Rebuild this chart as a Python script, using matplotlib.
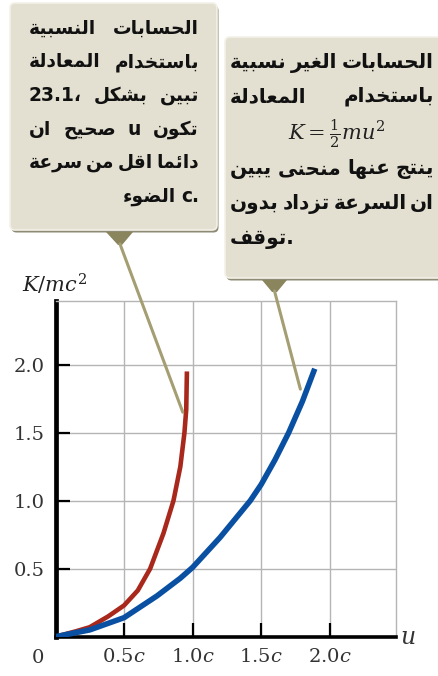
import matplotlib
matplotlib.use('Agg')
import matplotlib.pyplot as plt
from matplotlib.patches import FancyBboxPatch, Polygon, ConnectionPatch

plt.rcParams['mathtext.fontset'] = 'dejavuserif'

# values (u in units of c, K in units of mc^2)
rel_u = [0, 0.15, 0.25, 0.385, 0.5, 0.6, 0.69, 0.787, 0.86, 0.91, 0.94, 0.953, 0.958]
rel_k = [0, 0.04, 0.07, 0.15, 0.23, 0.34, 0.5, 0.76, 1.0, 1.25, 1.5, 1.67, 1.95]
classic_u = [0, 0.25, 0.5, 0.74, 0.91, 1.0, 1.2, 1.42, 1.5, 1.6, 1.7, 1.8, 1.89]
classic_k = [0, 0.05, 0.14, 0.30, 0.43, 0.51, 0.73, 1.0, 1.12, 1.3, 1.5, 1.73, 1.97]

x_ticks = [0.5, 1.0, 1.5, 2.0]
x_tick_labels = ['0.5$c$', '1.0$c$', '1.5$c$', '2.0$c$']
y_ticks = [0.5, 1.0, 1.5, 2.0]
y_tick_labels = ['0.5', '1.0', '1.5', '2.0']

left_note = ['الحسابات النسبية',
             'باستخدام المعادلة',
             '23.1، تبين بشكل',
             'صحيح ان u تكون',
             'دائما اقل من سرعة',
             'الضوء c.']
right_note = ['الحسابات الغير نسبية',
              'باستخدام المعادلة',
              r'$K = \frac{1}{2}mu^2$',
              'ينتج عنها منحنى يبين',
              'ان السرعة  تزداد بدون',
              'توقف.']

# arabic letter -> (isolated presentation form, number of forms)
FORMS = {'ء': (0xFE80, 1), 'آ': (0xFE81, 2), 'أ': (0xFE83, 2), 'ؤ': (0xFE85, 2),
         'إ': (0xFE87, 2), 'ئ': (0xFE89, 4), 'ا': (0xFE8D, 2), 'ب': (0xFE8F, 4),
         'ة': (0xFE93, 2), 'ت': (0xFE95, 4), 'ث': (0xFE99, 4), 'ج': (0xFE9D, 4),
         'ح': (0xFEA1, 4), 'خ': (0xFEA5, 4), 'د': (0xFEA9, 2), 'ذ': (0xFEAB, 2),
         'ر': (0xFEAD, 2), 'ز': (0xFEAF, 2), 'س': (0xFEB1, 4), 'ش': (0xFEB5, 4),
         'ص': (0xFEB9, 4), 'ض': (0xFEBD, 4), 'ط': (0xFEC1, 4), 'ظ': (0xFEC5, 4),
         'ع': (0xFEC9, 4), 'غ': (0xFECD, 4), 'ف': (0xFED1, 4), 'ق': (0xFED5, 4),
         'ك': (0xFED9, 4), 'ل': (0xFEDD, 4), 'م': (0xFEE1, 4), 'ن': (0xFEE5, 4),
         'ه': (0xFEE9, 4), 'و': (0xFEED, 2), 'ى': (0xFEEF, 2), 'ي': (0xFEF1, 4)}


def shape_token(word):
    # join letters, then lay each arabic run right to left
    runs = []
    for i, ch in enumerate(word):
        if ch in FORMS:
            code, nf = FORMS[ch]
            prev = word[i - 1] if i > 0 else ''
            nxt = word[i + 1] if i + 1 < len(word) else ''
            jp = prev in FORMS and FORMS[prev][1] == 4
            jn = nf == 4 and nxt in FORMS and FORMS[nxt][1] > 1
            form = 3 if (jp and jn) else 1 if jp else 2 if jn else 0
            glyph, is_ar = chr(code + form), True
        else:
            glyph, is_ar = ch, False
        if runs and runs[-1][1] == is_ar:
            runs[-1][0].append(glyph)
        else:
            runs.append([[glyph], is_ar])
    return ''.join(''.join(g[::-1] if a else g) for g, a in runs)


def visual_tokens(line):
    # runs of arabic words read right to left, numbers and latin stay in place
    out, run = [], []
    for w in line.split():
        if any(c in FORMS for c in w):
            run.append(shape_token(w))
        else:
            out.extend(run[::-1])
            run = []
            out.append(w)
    out.extend(run[::-1])
    return out


def measure(ov, renderer, tokens, kw):
    texts = [ov.text(0, 0, t, **kw) for t in tokens]
    widths = [t.get_window_extent(renderer).width for t in texts]
    for t in texts:
        t.remove()
    return widths


def write_line(ov, renderer, line, x0, x1, y, mode, kw, gap0=5):
    tokens = visual_tokens(line)
    widths = measure(ov, renderer, tokens, kw)
    if mode == 'justify' and len(tokens) > 1:
        gap = (x1 - x0 - sum(widths)) / (len(tokens) - 1)
        x = x0
    else:
        gap = gap0
        total = sum(widths) + gap * (len(tokens) - 1)
        x = x1 - total if mode == 'right' else x0
    for t, w in zip(tokens, widths):
        ov.text(x, y, t, va='baseline', ha='left', **kw)
        x += w + gap


def fit_size(ov, renderer, lines, width, base, kw, gap=3.5):
    need = 0
    for line in lines:
        if line.startswith('$'):
            continue
        tokens = visual_tokens(line)
        w = sum(measure(ov, renderer, tokens, dict(kw, fontsize=base)))
        need = max(need, (w + gap * (len(tokens) - 1)) / width)
    return base / max(need, 1.0)


fig = plt.figure(figsize=(4.39, 6.76), dpi=100)
fig.patch.set_facecolor('white')

ax = fig.add_axes([55.5 / 439, 39.3 / 676, 340.2 / 439, 336 / 676])
ax.set_xlim(0, 2.48)
ax.set_ylim(0, 2.47)
ax.grid(True, color='#b5b5b5', lw=1.0)
ax.set_axisbelow(True)
for side in ['top', 'right']:
    ax.spines[side].set_color('#b5b5b5')
    ax.spines[side].set_linewidth(1.0)
ax.spines['left'].set_linewidth(3.4)
ax.spines['bottom'].set_linewidth(2.6)

ax.set_xticks(x_ticks, x_tick_labels, fontfamily='DejaVu Serif')
ax.set_yticks(y_ticks, y_tick_labels, fontfamily='DejaVu Serif')
ax.tick_params(direction='in', length=10, width=1.6, color='black',
               labelsize=14, labelcolor='#333333')
ax.tick_params(axis='y', pad=8)
ax.tick_params(axis='x', pad=8)

ax.plot(rel_u, rel_k, color='#a8281c', lw=3.3, solid_capstyle='butt',
        solid_joinstyle='round', zorder=3)
ax.plot(classic_u, classic_k, color='#0a50a2', lw=4.0, solid_capstyle='butt',
        solid_joinstyle='round', zorder=3)

ax.text(-0.13, -0.155, '0', ha='center', va='center', fontsize=14,
        fontfamily='DejaVu Serif', color='#333333', clip_on=False)
ax.text(2.57, 0.0, '$u$', ha='center', va='center', fontsize=17,
        color='#333333', clip_on=False)
ax.text(-0.245, 2.59, '$K/mc^2$', ha='left', va='center', fontsize=15,
        color='#222222', clip_on=False)

# overlay in pixel coordinates for the callouts
ov = fig.add_axes([0, 0, 1, 1], zorder=5)
ov.set_xlim(0, 439)
ov.set_ylim(676, 0)
ov.axis('off')

box_fill = '#e3e0d1'
shadow = '#8e8a74'
pointer = '#8a855c'
leader = '#a49e72'

boxes = [(10, 3, 207, 227), (225, 37, 240, 241)]
for bx, by, bw, bh in boxes:
    ov.add_patch(FancyBboxPatch((bx + 1.5, by + 2.5), bw, bh,
                                boxstyle='round,pad=0,rounding_size=5',
                                fc=shadow, ec='none'))
    ov.add_patch(FancyBboxPatch((bx, by), bw, bh,
                                boxstyle='round,pad=0,rounding_size=5',
                                fc=box_fill, ec='#f3f1e8', lw=1.2))

ov.add_patch(Polygon([(106, 232), (133, 232), (122, 245), (118, 245)], fc=pointer, ec='none'))
ov.add_patch(Polygon([(262, 280), (287, 280), (277, 292), (272, 292)], fc=pointer, ec='none'))

for start, end in [((120, 244), (0.928, 1.65)), ((274.5, 291), (1.785, 1.82))]:
    fig.add_artist(ConnectionPatch(xyA=start, coordsA=ov.transData,
                                   xyB=end, coordsB=ax.transData,
                                   color=leader, lw=2.2, zorder=6))

renderer = fig.canvas.get_renderer()
arab = dict(fontweight='bold', fontfamily='DejaVu Sans', color='#111111')

left_kw = dict(arab, fontsize=fit_size(ov, renderer, left_note, 170, 15, arab))
left_base = [34, 67, 101, 135, 168, 202]
left_mode = ['justify', 'justify', 'justify', 'justify', 'justify', 'right']
for line, y, mode in zip(left_note, left_base, left_mode):
    write_line(ov, renderer, line, 29, 199, y, mode, left_kw)

right_kw = dict(arab, fontsize=fit_size(ov, renderer, right_note, 204, 15, arab))
right_base = [68, 102, 134, 174, 209, 244]
right_mode = ['justify', 'justify', 'math', 'justify', 'justify', 'left']
for line, y, mode in zip(right_note, right_base, right_mode):
    if mode == 'math':
        ov.text(337, y, line, ha='center', va='center', fontsize=15, color='#222222')
    else:
        write_line(ov, renderer, line, 230, 434, y, mode, right_kw)

fig.savefig('out.png', dpi=100)
